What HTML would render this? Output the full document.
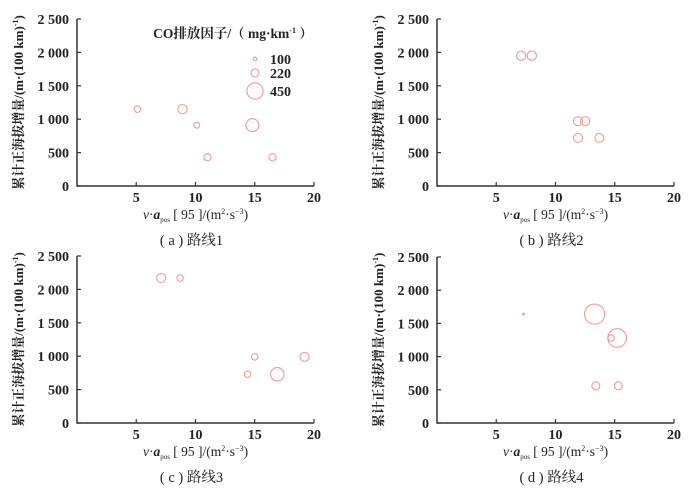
<!DOCTYPE html>
<html><head><meta charset="utf-8">
<style>
html,body{margin:0;padding:0;background:#fff;}
svg{display:block;}
text{font-family:"Liberation Serif","Noto Serif CJK SC",serif;fill:#222;}
.tick{font-size:14px;font-weight:bold;}
</style></head>
<body>
<svg id="chart" width="700" height="495" viewBox="0 0 700 495"></svg>
<script>
// Panel data
const panelCaptions = ["( a ) 路线1","( b ) 路线2","( c ) 路线3","( d ) 路线4"];
const xA = [5.1, 8.9, 10.1, 11.0, 14.8, 16.5];
const yA = [1150, 1150, 910, 430, 910, 430];
const sA = [180, 260, 160, 200, 360, 200];
const xB = [7.1, 8.0, 11.9, 12.5, 11.9, 13.7];
const yB = [1950, 1950, 970, 970, 720, 720];
const sB = [260, 260, 250, 250, 250, 250];
const xC = [7.1, 8.7, 15.0, 19.2, 14.4, 16.9];
const yC = [2170, 2170, 990, 990, 730, 730];
const sC = [250, 180, 180, 250, 180, 370];
const xD = [7.3, 13.3, 15.2, 14.7, 13.4, 15.3];
const yD = [1640, 1640, 1280, 1280, 560, 560];
const sD = [50, 560, 520, 180, 220, 220];
const xTicks = [5, 10, 15, 20];
const yTicks = [0, 500, 1000, 1500, 2000, 2500];
const yTickLabels = ["0","500","1 000","1 500","2 000","2 500"];
const legendValues = [100, 220, 450];

const NS = "http://www.w3.org/2000/svg";
const svg = document.getElementById("chart");
function mk(tag, attrs, parent){
  const e = document.createElementNS(NS, tag);
  for (const k in attrs) e.setAttribute(k, attrs[k]);
  (parent||svg).appendChild(e);
  return e;
}
const panels = [
  {x0:77, y0:186, y1:19, xs:xA, ys:yA, ss:sA},
  {x0:437, y0:186, y1:19, xs:xB, ys:yB, ss:sB},
  {x0:77, y0:423, y1:256, xs:xC, ys:yC, ss:sC},
  {x0:437, y0:423, y1:257, xs:xD, ys:yD, ss:sD}
];
const XPX = 11.85;
function rScale(v){ return Math.max(1, v*0.018); }

panels.forEach((p, i) => {
  const g = mk("g", {});
  
  
  const sx = v => p.x0 + v*XPX;
  const sy = v => p.y0 - (v/2500)*(p.y0 - p.y1);
  const xEnd = sx(20);
  const ax = mk("path", {d:`M${p.x0},${p.y1} V${p.y0} H${xEnd}`, fill:"none", stroke:"#333", "stroke-width":1.5}, g);
  
  
  xTicks.forEach(t => {
    mk("line", {x1:sx(t), x2:sx(t), y1:p.y0, y2:p.y0-4, stroke:"#333", "stroke-width":1.2}, g);
    const tl = mk("text", {x:sx(t), y:p.y0+16, "text-anchor":"middle", class:"tick"}, g);
    tl.textContent = t;
    
    
  });
  yTicks.forEach((t, k) => {
    mk("line", {x1:p.x0, x2:p.x0+4, y1:sy(t), y2:sy(t), stroke:"#333", "stroke-width":1.2}, g);
    const tl = mk("text", {x:p.x0-8, y:sy(t)+5, "text-anchor":"end", class:"tick"}, g);
    tl.textContent = yTickLabels[k];
    
    
  });
  const cy = (p.y0 + p.y1)/2;
  const yt = mk("text", {x:p.x0-54, y:cy, "text-anchor":"middle", "font-size":"13", "font-weight":"bold", transform:`rotate(-90 ${p.x0-54} ${cy})`}, g);
  yt.innerHTML = '累计正海拔增量/(m·(100 km)<tspan font-size="8" dy="-5">-1</tspan><tspan dy="5">)</tspan>';
  
  
  const xm = (p.x0 + xEnd)/2;
  const xt = mk("text", {x:xm, y:p.y0+33, "text-anchor":"middle", "font-size":"13.5"}, g);
  xt.innerHTML = '<tspan font-style="italic">v</tspan>·<tspan font-style="italic" font-weight="bold">a</tspan><tspan font-size="7" dy="3">pos</tspan><tspan dy="-3"> [ 95 ]/(m</tspan><tspan font-size="8" dy="-5">2</tspan><tspan dy="5">·s</tspan><tspan font-size="8" dy="-5">−3</tspan><tspan dy="5">)</tspan>';
  
  
  const cap = mk("text", {x:xm-4, y:p.y0+59, "text-anchor":"middle", "font-size":"14.5"}, g);
  cap.textContent = panelCaptions[i];
  
  
  p.xs.forEach((xv, k) => {
    const c = mk("circle", {cx:sx(xv), cy:sy(p.ys[k]), r:rScale(p.ss[k]), fill:"none", stroke:"#f29a9a", "stroke-width":1.1}, g);
    
    
  });
});

// Legend (panel a)
const lg = mk("g", {});


const lt = mk("text", {x:233, y:38, "text-anchor":"middle", "font-size":"13.5", "font-weight":"bold"}, lg);
lt.innerHTML = 'CO排放因子/（ mg·km<tspan font-size="8" dy="-5">-1</tspan><tspan dy="5"> ）</tspan>';


const legY = [59, 73, 91];
legendValues.forEach((v, k) => {
  const c = mk("circle", {cx:255, cy:legY[k], r:rScale(v), fill:"none", stroke:"#f29a9a", "stroke-width":1.1}, lg);
  
  
  const t = mk("text", {x:270, y:legY[k]+5, "font-size":"14", "font-weight":"bold"}, lg);
  t.textContent = v;
  
  
});
</script>
</body></html>
